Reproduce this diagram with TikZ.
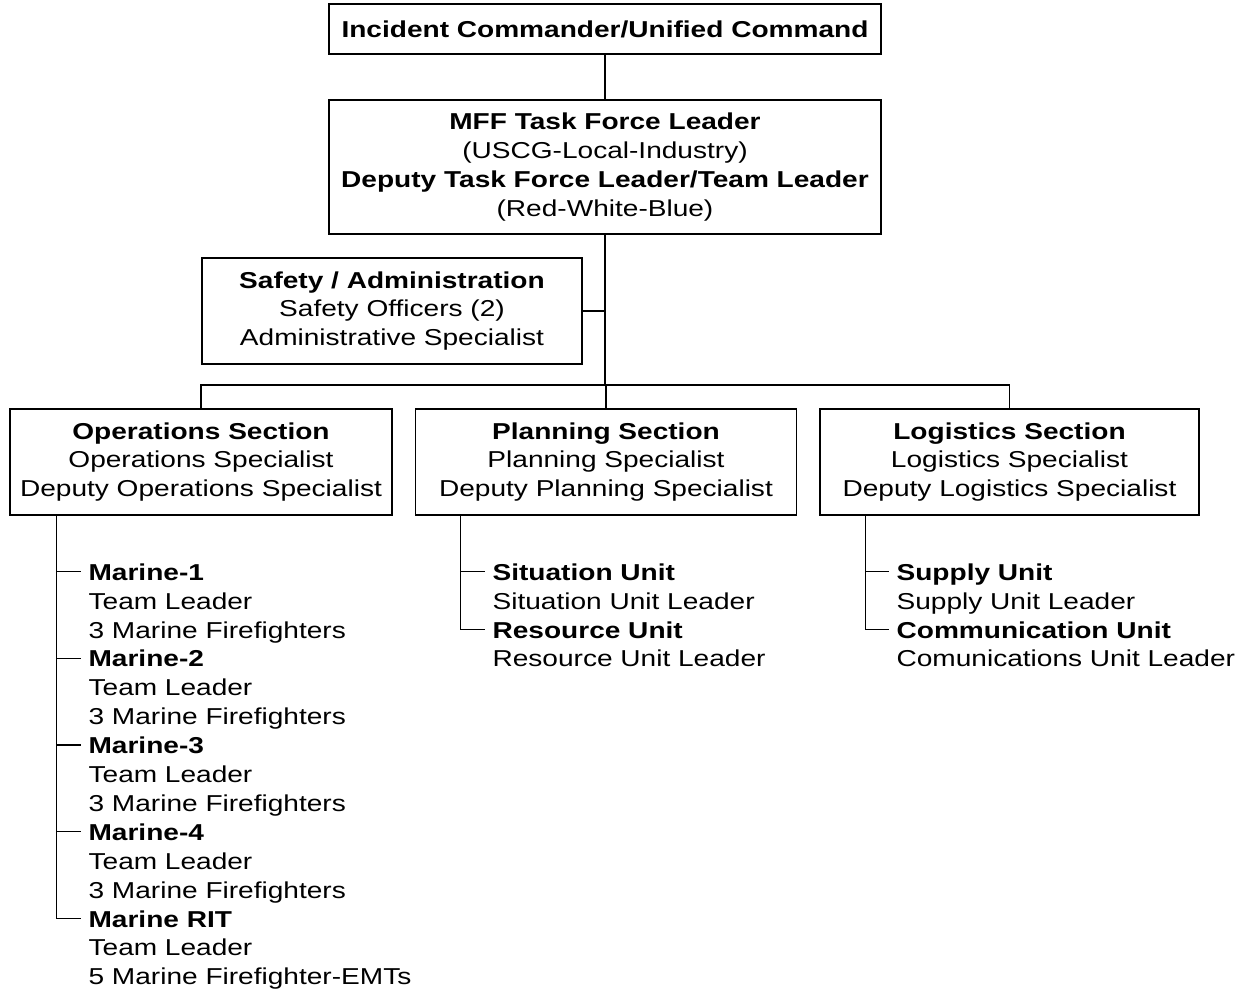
\documentclass[tikz,border=0pt]{standalone}
\usepackage{fontspec}
\setmainfont{Liberation Sans}[FakeStretch=1.22]
\usetikzlibrary{positioning}

\tikzset{
  every path/.style={line width=1.2pt},
  orgbox/.style={draw, line width=1.4pt, align=center, inner sep=0pt,
    font=\fontsize{23}{28.9}\selectfont},
  unitlist/.style={anchor=north west, align=left, inner xsep=7pt, inner ysep=0pt,
    font=\fontsize{23}{28.9}\selectfont},
}

\begin{document}
\begin{tikzpicture}[x=1pt,y=-1pt]
\useasboundingbox (0,0) rectangle (1243,991);

% Command boxes
\node[orgbox, minimum width=552pt, minimum height=50pt] (ic) at (605,29)
  {\textbf{Incident Commander/Unified Command}};
\node[orgbox, minimum width=552pt, minimum height=134pt] (tfl) at (605,167)
  {\textbf{MFF Task Force Leader}\\(USCG-Local-Industry)\\
   \textbf{Deputy Task Force Leader/Team Leader}\\(Red-White-Blue)};
\node[orgbox, minimum width=380pt, minimum height=106pt] (safety) at (392,311)
  {\textbf{Safety / Administration}\\Safety Officers (2)\\Administrative Specialist};

% Sections
\node[orgbox, minimum width=382pt, minimum height=106pt] (ops) at (201,462)
  {\textbf{Operations Section}\\Operations Specialist\\Deputy Operations Specialist};
\node[orgbox, minimum width=381pt, minimum height=106pt] (plan) at (606,462)
  {\textbf{Planning Section}\\Planning Specialist\\Deputy Planning Specialist};
\node[orgbox, minimum width=379pt, minimum height=106pt] (logi) at (1009.5,462)
  {\textbf{Logistics Section}\\Logistics Specialist\\Deputy Logistics Specialist};

% Links between boxes
\coordinate (bus) at (605,385);
\draw (ic) -- (tfl);
\draw (tfl) -- (bus);
\draw (safety.east) -- (safety.east -| bus);
\draw (ops.north) |- (bus) -| (logi.north);
\draw (bus) -- (bus -| plan.north) -- (plan.north);

% Operations units
\node[unitlist] (m1) at (81,563) {\textbf{Marine-1}\\Team Leader\\3 Marine Firefighters};
\node[unitlist] (m2) at (81,649.7) {\textbf{Marine-2}\\Team Leader\\3 Marine Firefighters};
\node[unitlist] (m3) at (81,736.4) {\textbf{Marine-3}\\Team Leader\\3 Marine Firefighters};
\node[unitlist] (m4) at (81,823.1) {\textbf{Marine-4}\\Team Leader\\3 Marine Firefighters};
\node[unitlist] (rit) at (81,909.8) {\textbf{Marine RIT}\\Team Leader\\5 Marine Firefighter-EMTs};

\coordinate (opsspine) at ([xshift=47pt]ops.south west);
\foreach \u in {m1,m2,m3,m4,rit}
  \coordinate (\u-tick) at ([yshift=-8.5pt]\u.north west);
\draw (opsspine) |- (rit-tick);
\foreach \u in {m1,m2,m3,m4}
  \draw (opsspine |- \u-tick) -- (\u-tick);

% Planning units
\node[unitlist] (sit) at (485,563) {\textbf{Situation Unit}\\Situation Unit Leader};
\node[unitlist] (res) at (485,620.8) {\textbf{Resource Unit}\\Resource Unit Leader};

\coordinate (planspine) at ([xshift=46pt]plan.south west);
\coordinate (sit-tick) at ([yshift=-8.5pt]sit.north west);
\coordinate (res-tick) at ([yshift=-8.5pt]res.north west);
\draw (planspine) |- (res-tick);
\draw (planspine |- sit-tick) -- (sit-tick);

% Logistics units
\node[unitlist] (sup) at (889,563) {\textbf{Supply Unit}\\Supply Unit Leader};
\node[unitlist] (com) at (889,620.8) {\textbf{Communication Unit}\\Comunications Unit Leader};

\coordinate (logispine) at ([xshift=46pt]logi.south west);
\coordinate (sup-tick) at ([yshift=-8.5pt]sup.north west);
\coordinate (com-tick) at ([yshift=-8.5pt]com.north west);
\draw (logispine) |- (com-tick);
\draw (logispine |- sup-tick) -- (sup-tick);
\end{tikzpicture}
\end{document}
